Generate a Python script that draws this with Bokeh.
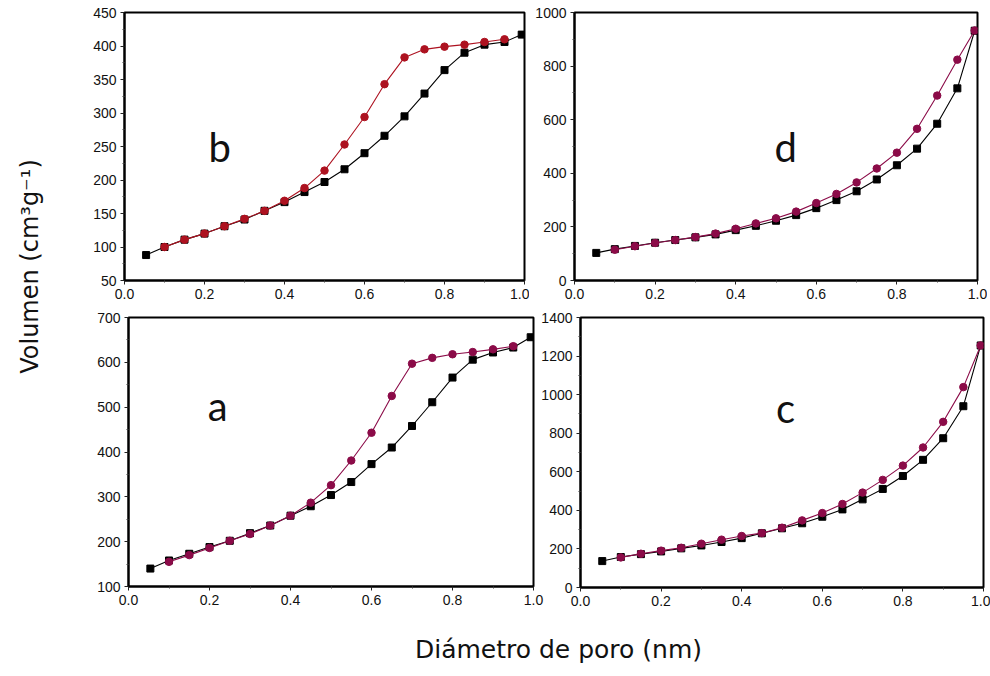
from math import pi
from bokeh.plotting import figure
from bokeh.models import Range1d, FixedTicker, PrintfTickFormatter, Label
from bokeh.layouts import row, column
from bokeh.embed import file_html
from bokeh.resources import INLINE

# ---------------- data ----------------
x_ticks = [0.0, 0.2, 0.4, 0.6, 0.8, 1.0]
x_minor = [0.1, 0.3, 0.5, 0.7, 0.9]

ads_x = [0.054, 0.10, 0.15, 0.20, 0.25, 0.30, 0.35, 0.40, 0.45, 0.50,
         0.55, 0.60, 0.65, 0.70, 0.75, 0.80, 0.85, 0.90, 0.95, 0.993]
des_x_short = [0.10, 0.15, 0.20, 0.25, 0.30, 0.35, 0.40, 0.45, 0.50,
               0.55, 0.60, 0.65, 0.70, 0.75, 0.80, 0.85, 0.90, 0.95]
des_x_long = des_x_short + [0.993]

# panel b
b_yticks = [50, 100, 150, 200, 250, 300, 350, 400, 450]
b_ads_y = [88, 100, 111, 120, 131, 141, 154, 167, 182, 197, 216, 240, 266, 295, 329, 364, 390, 402, 406, 417]
b_des_y = [100, 111, 120, 131, 142, 154, 169, 188, 214, 253, 294, 343, 383, 395, 399, 402, 406, 410]

# panel d
d_yticks = [0, 200, 400, 600, 800, 1000]
d_ads_y = [103, 117, 129, 141, 151, 161, 172, 188, 204, 223, 244, 270, 300, 333, 377, 430, 492, 585, 717, 932]
d_des_y = [115, 128, 140, 151, 162, 175, 193, 213, 232, 257, 289, 323, 366, 418, 477, 566, 690, 824, 933]

# panel a
a_yticks = [100, 200, 300, 400, 500, 600, 700]
a_ads_y = [140, 158, 173, 188, 202, 219, 236, 258, 279, 304, 333, 373, 410, 458, 511, 566, 606, 622, 633, 656]
a_des_y = [155, 170, 186, 202, 217, 236, 258, 287, 326, 381, 443, 525, 597, 610, 618, 623, 629, 636]

# panel c
c_yticks = [0, 200, 400, 600, 800, 1000, 1200, 1400]
c_ads_y = [137, 158, 173, 187, 203, 218, 236, 256, 281, 307, 333, 367, 405, 457, 511, 578, 662, 774, 940, 1255]
c_des_y = [156, 175, 191, 206, 227, 248, 267, 282, 310, 348, 386, 433, 492, 558, 632, 726, 859, 1039, 1255]

x_title = "Diámetro de poro (nm)"
y_title = "Volumen (cm³g⁻¹)"

RED = "#ad1220"
WINE = "#8b0b48"
TICK_FONT = "Liberation Sans"


def midpoints(t):
    return [(t[i] + t[i + 1]) / 2 for i in range(len(t) - 1)]


def panel(yticks, ads_y, des_x, des_y, des_color, letter, lx, ly,
          fw, fh, bl, br, bt, bb):
    p = figure(frame_width=fw, frame_height=fh,
               x_range=Range1d(0, 1), y_range=Range1d(yticks[0], yticks[-1]),
               output_backend="svg", toolbar_location=None,
               min_border_left=bl, min_border_right=br,
               min_border_top=bt, min_border_bottom=bb)
    p.grid.visible = False
    p.outline_line_color = "black"
    p.outline_line_width = 2
    p.background_fill_alpha = 0
    p.border_fill_alpha = 0

    p.xaxis.ticker = FixedTicker(ticks=x_ticks, minor_ticks=x_minor)
    p.xaxis.formatter = PrintfTickFormatter(format="%.1f")
    p.yaxis.ticker = FixedTicker(ticks=yticks, minor_ticks=midpoints(yticks))
    p.yaxis.formatter = PrintfTickFormatter(format="%d")
    for ax in (p.xaxis[0], p.yaxis[0]):
        ax.axis_line_width = 2
        ax.axis_line_color = "black"
        ax.major_tick_in = 0
        ax.major_tick_out = 4
        ax.minor_tick_in = 0
        ax.minor_tick_out = 2
        ax.major_tick_line_color = "#222222"
        ax.minor_tick_line_color = "#444444"
        ax.major_label_text_font = TICK_FONT
        ax.major_label_text_font_size = "14px"
        ax.major_label_text_color = "#111111"
    p.xaxis.major_label_standoff = 4
    p.yaxis.major_label_standoff = 4

    p.line(ads_x, ads_y, line_color="black", line_width=1.1)
    p.scatter(ads_x, ads_y, marker="square", size=7, fill_color="black",
              line_color="black")
    p.line(des_x, des_y, line_color=des_color, line_width=1.1)
    p.scatter(des_x, des_y, marker="circle", size=7.5, fill_color=des_color,
              line_color=des_color)

    p.add_layout(Label(x=lx, y=ly, text=letter, text_font="Lato",
                       text_font_size="40px", text_align="center",
                       text_baseline="alphabetic", text_color="#111111"))
    return p


pb = panel(b_yticks, b_ads_y, des_x_short, b_des_y, RED, "b", 0.238, 250,
           400, 268, 45, 5, 12, 26)
pd_ = panel(d_yticks, d_ads_y, des_x_long, d_des_y, WINE, "d", 0.524, 500,
            403, 268, 45, 10, 12, 26)
pa = panel(a_yticks, a_ads_y, des_x_short, a_des_y, WINE, "a", 0.22, 502,
           405, 269, 49, 11, 11, 26)
pc = panel(c_yticks, c_ads_y, des_x_long, c_des_y, WINE, "c", 0.509, 930,
           403, 270, 40, 7, 9, 27)
pc.margin = (0, 0, 0, -6)

# y title figure
fy = figure(width=79, height=612, x_range=Range1d(0, 79), y_range=Range1d(0, 612),
            output_backend="svg", toolbar_location=None,
            x_axis_location=None, y_axis_location=None, min_border=0)
fy.grid.visible = False
fy.outline_line_color = None
fy.add_layout(Label(x=29, y=346, text=y_title, angle=pi / 2,
                    text_font="DejaVu Sans", text_font_size="24px",
                    text_align="center", text_baseline="middle",
                    text_color="#111111"))

# x title figure
fx = figure(width=985, height=55, x_range=Range1d(0, 985), y_range=Range1d(0, 55),
            output_backend="svg", toolbar_location=None,
            x_axis_location=None, y_axis_location=None, min_border=0)
fx.grid.visible = False
fx.outline_line_color = None
fx.add_layout(Label(x=558, y=18, text=x_title,
                    text_font="DejaVu Sans", text_font_size="25px",
                    text_align="center", text_baseline="middle",
                    text_color="#111111"))

layout = column(row(fy, column(row(pb, pd_), row(pa, pc))), fx)

open("out.html", "w").write(file_html(layout, INLINE))
